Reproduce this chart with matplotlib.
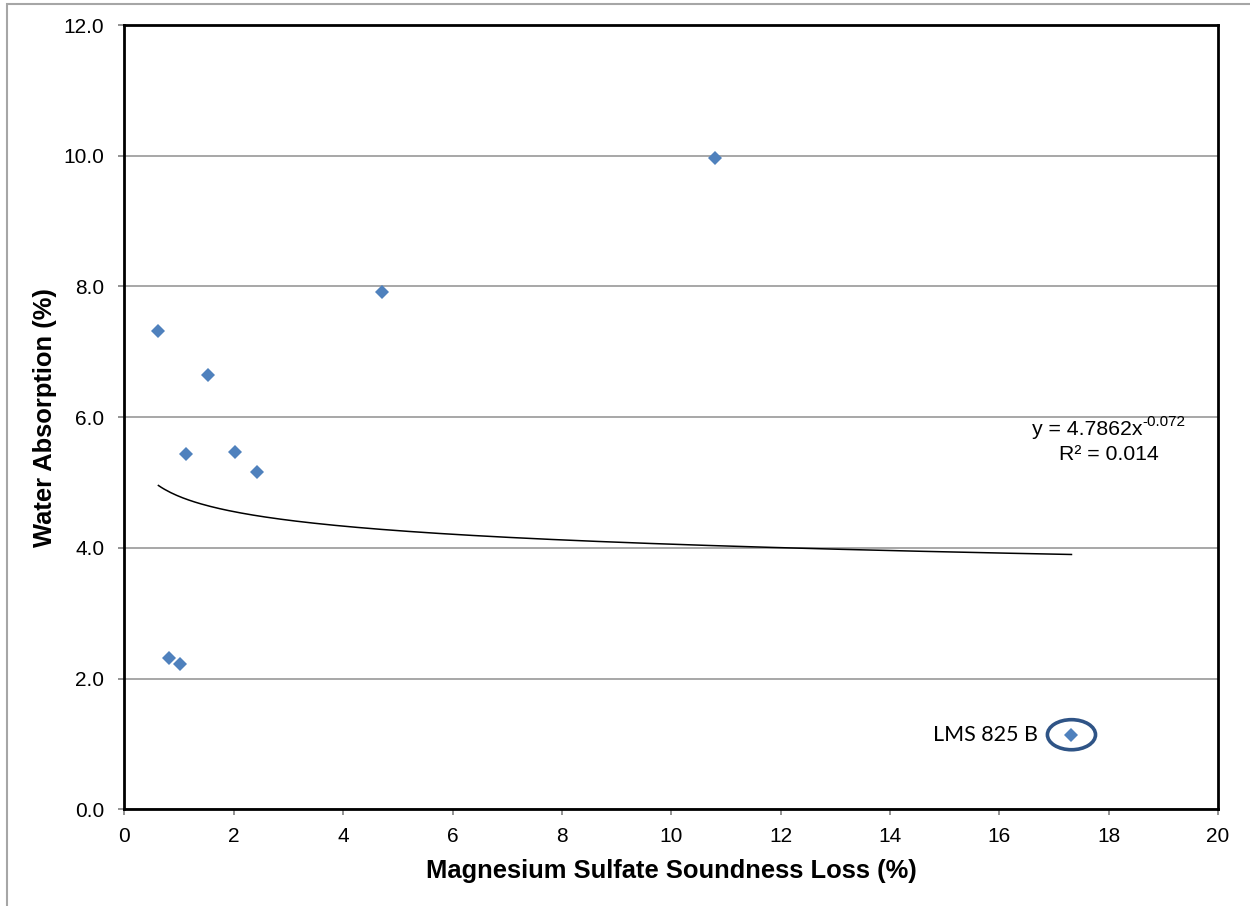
import numpy as np
import matplotlib
matplotlib.use("Agg")
import matplotlib.pyplot as plt
from matplotlib.patches import Ellipse, Rectangle

# Data
soundness_loss = [0.62, 0.82, 1.02, 1.12, 1.52, 2.02, 2.42, 4.71, 10.80, 17.32]
water_absorption = [7.31, 2.31, 2.22, 5.43, 6.65, 5.47, 5.16, 7.91, 9.96, 1.14]
fit_coef = 4.7862
fit_exp = -0.072
r_squared = 0.014
x_ticks = [0, 2, 4, 6, 8, 10, 12, 14, 16, 18, 20]
y_ticks = [0.0, 2.0, 4.0, 6.0, 8.0, 10.0, 12.0]
outlier_label = "LMS 825 B"

plt.rcParams['font.family'] = ['Liberation Sans', 'DejaVu Sans']

W, H = 1250, 906
fig = plt.figure(figsize=(W / 100, H / 100), dpi=100)
ax = fig.add_axes([124.5 / W, 1 - 809.2 / H, (1218 - 124.5) / W, (809.2 - 25) / H])

# outer chart border (left & top visible)
fig.patches.append(Rectangle((7 / W, -0.05), 1.2, 1 - 4 / H + 0.05, transform=fig.transFigure,
                             fill=False, edgecolor='#a6a6a6', linewidth=1.5, zorder=0))

ax.set_xlim(0, 20)
ax.set_ylim(0, 12)
ax.set_xticks(x_ticks)
ax.set_yticks(y_ticks)
ax.set_xticklabels([str(t) for t in x_ticks], fontsize=15)
ax.set_yticklabels([f"{t:.1f}" for t in y_ticks], fontsize=15)
ax.tick_params(axis='both', direction='out', length=4.5, width=1.2, color='#808080')
ax.tick_params(axis='x', pad=8)
ax.tick_params(axis='y', pad=10)
ax.yaxis.grid(True, color='#a0a0a0', linewidth=1.3)
ax.set_axisbelow(True)
for s in ax.spines.values():
    s.set_color('black')
    s.set_linewidth(2)

# trendline
xs = np.linspace(min(soundness_loss), max(soundness_loss), 300)
ax.plot(xs, fit_coef * xs ** fit_exp, color='black', linewidth=1.1, zorder=2)

ax.plot(soundness_loss, water_absorption, linestyle='none', marker='D', markersize=7.5,
        color='#4f81bd', markeredgewidth=0, zorder=3)

# trendline equation (superscript drawn separately to keep a plain hyphen)
t_eq = ax.text(17.61, 5.81, f"y = {fit_coef}x", ha='center', va='center', fontsize=15.3)
ax.annotate(f"{fit_exp}", xy=(1.0, 0.55), xycoords=t_eq, ha='left', va='bottom', fontsize=11)
ax.text(18.0, 5.43, f"R² = {r_squared}", ha='center', va='center', fontsize=15.3)

# outlier highlight
ox, oy = soundness_loss[-1], water_absorption[-1]
ax.add_patch(Ellipse((ox, oy), 0.88, 0.46, fill=False, edgecolor='#2f5486', linewidth=2.6, zorder=4))
ax.text(ox - 0.62, oy, outlier_label, ha='right', va='center', fontsize=15.5,
        family=['Lato', 'DejaVu Sans'])

ax.set_xlabel("Magnesium Sulfate Soundness Loss (%)", fontsize=18.4, fontweight='bold', labelpad=10)
ax.set_ylabel("Water Absorption (%)", fontsize=18.4, fontweight='bold', labelpad=4.5)

fig.savefig("out.png", dpi=100)
